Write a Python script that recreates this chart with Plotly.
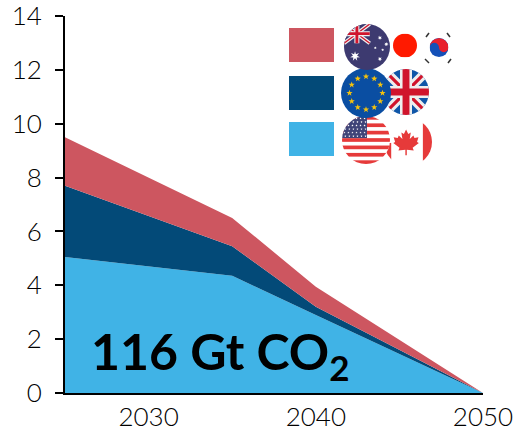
import base64
import math
import plotly.graph_objects as go

years = [2025, 2035, 2040, 2050]
usa_canada = [5.05, 4.35, 2.90, 0.0]
eu_uk = [2.65, 1.10, 0.30, 0.0]
aus_jpn_kor = [1.80, 1.05, 0.75, 0.0]
x_ticks = [2030, 2040, 2050]
y_ticks = [0, 2, 4, 6, 8, 10, 12, 14]
budget_label = "116 Gt CO<sub>2</sub>"

BLUE = "#40B3E6"
NAVY = "#034A78"
RED = "#CD5660"
FONT = "Lato, sans-serif"

WIDTH, HEIGHT = 515, 432
LEFT, RIGHT, TOP, BOTTOM = 65, 32, 16, 39
PLOT_W = WIDTH - LEFT - RIGHT
PLOT_H = HEIGHT - TOP - BOTTOM


def paper_x(px):
    return (px - LEFT) / PLOT_W


def paper_y(py):
    return 1 - (py - TOP) / PLOT_H


def star(cx, cy, r, points=5, fill="#fff", inner=0.42):
    pts = []
    for i in range(points * 2):
        radius = r if i % 2 == 0 else r * inner
        a = -math.pi / 2 + i * math.pi / points
        pts.append(f"{cx + radius * math.cos(a):.2f},{cy + radius * math.sin(a):.2f}")
    return f'<polygon points="{" ".join(pts)}" fill="{fill}"/>'


def union_jack(x, y, w, h, field):
    """Union Jack filling the box (x, y, w, h) on a coloured field."""
    sw = h * 0.2
    thin = h * 0.07
    cw = h * 0.26
    cr = h * 0.15
    mx, my = x + w / 2, y + h / 2
    x2, y2 = x + w, y + h
    return (
        f'<rect x="{x}" y="{y}" width="{w}" height="{h}" fill="{field}"/>'
        f'<path d="M{x} {y}L{x2} {y2}M{x2} {y}L{x} {y2}" stroke="#eee" stroke-width="{sw}"/>'
        f'<path d="M{x} {y}L{x2} {y2}M{x2} {y}L{x} {y2}" stroke="#D0142C" stroke-width="{thin}"/>'
        f'<path d="M{mx} {y}V{y2}M{x} {my}H{x2}" stroke="#eee" stroke-width="{cw}"/>'
        f'<path d="M{mx} {y}V{y2}M{x} {my}H{x2}" stroke="#D0142C" stroke-width="{cr}"/>'
    )


def flag_australia():
    body = '<rect width="100" height="100" fill="#3D3A70"/>'
    body += union_jack(0, 0, 56, 42, "#3D3A70")
    body += star(24, 70, 11, 7)
    for cx, cy, r in [(78, 30, 5), (92, 44, 5), (84, 56, 3.5), (68, 52, 3.5), (78, 76, 5)]:
        body += star(cx, cy, r, 7)
    return body


def flag_japan():
    return '<rect width="100" height="100" fill="#FF1A00"/>'


def flag_korea():
    return (
        '<rect width="100" height="100" fill="#1450B8"/>'
        '<path d="M0 50A50 50 0 0 1 100 50A25 25 0 0 1 50 50A25 25 0 0 0 0 50Z" fill="#E8202E"/>'
    )


def flag_eu():
    body = '<rect width="100" height="100" fill="#0A4EA2"/>'
    for i in range(12):
        a = i * math.pi / 6
        body += star(50 + 33 * math.sin(a), 50 - 33 * math.cos(a), 6.5, 5, "#F4C20D")
    return body


def flag_uk():
    return union_jack(0, 0, 100, 100, "#0F56A8")


def flag_usa():
    body = '<rect width="100" height="100" fill="#fff"/>'
    for i in range(0, 13, 2):
        body += f'<rect y="{i * 100 / 13:.2f}" width="100" height="{100 / 13:.2f}" fill="#E63A3A"/>'
    body += '<rect width="52" height="46" fill="#3F4478"/>'
    for row in range(6):
        for col in range(6):
            body += star(5 + col * 8.4 + (row % 2) * 2, 5 + row * 7.4, 2.4)
    return body


def flag_canada():
    leaf = (
        "M50 18L56 30L63 26L60 44L70 34L73 41L84 39L80 52L85 55L68 68L71 75L52 73"
        "L52 88L48 88L48 73L29 75L32 68L15 55L20 52L16 39L27 41L30 34L40 44L37 26L44 30Z"
    )
    return (
        '<rect width="100" height="100" fill="#fff"/>'
        '<rect y="52" width="15" height="48" fill="#E63A3A"/>'
        '<rect x="81" width="19" height="100" fill="#E63A3A"/>'
        f'<g transform="translate(46 50) scale(0.76) translate(-50 -52)"><path d="{leaf}" fill="#E63A3A"/></g>'
    )


def flag_image(body, cx, cy, r):
    svg = (
        '<svg xmlns="http://www.w3.org/2000/svg" width="200" height="200" viewBox="0 0 100 100">'
        '<defs><clipPath id="c"><circle cx="50" cy="50" r="50"/></clipPath></defs>'
        f'<g clip-path="url(#c)">{body}</g></svg>'
    )
    uri = "data:image/svg+xml;base64," + base64.b64encode(svg.encode()).decode()
    return dict(
        source=uri, xref="paper", yref="paper",
        x=paper_x(cx - r), y=paper_y(cy - r),
        sizex=2 * r / PLOT_W, sizey=2 * r / PLOT_H,
        sizing="stretch", xanchor="left", yanchor="top", layer="above",
    )


fig = go.Figure()
for name, values, colour in [
    ("USA and Canada", usa_canada, BLUE),
    ("EU and UK", eu_uk, NAVY),
    ("Australia, Japan and South Korea", aus_jpn_kor, RED),
]:
    fig.add_trace(go.Scatter(
        x=years, y=values, name=name, mode="lines", stackgroup="emissions",
        line=dict(width=0), fillcolor=colour, hoverinfo="x+y+name",
    ))

# Colour key: one swatch per group of flags
swatches = [(28, 62, RED), (76, 110, NAVY), (122, 156, BLUE)]
shapes = [
    dict(type="rect", xref="paper", yref="paper", layer="above", line_width=0, fillcolor=c,
         x0=paper_x(289), x1=paper_x(334), y0=paper_y(y1), y1=paper_y(y0))
    for y0, y1, c in swatches
]

images = [
    flag_image(flag_canada(), 408, 142, 24),
    flag_image(flag_usa(), 366, 140, 24),
    flag_image(flag_uk(), 406, 92, 23),
    flag_image(flag_eu(), 366, 93, 25),
    flag_image(flag_australia(), 367, 47, 23),
    flag_image(flag_japan(), 405, 45.5, 12),
    flag_image(flag_korea(), 439, 47.5, 9.5),
]

# Trigram marks around the Korean disc
for x0, y0, x1, y1 in [(426, 37, 429, 33), (447, 33, 450, 37), (425, 59, 429, 63), (448, 63, 451, 59)]:
    shapes.append(dict(type="line", xref="paper", yref="paper", layer="above",
                       x0=paper_x(x0), x1=paper_x(x1), y0=paper_y(y0), y1=paper_y(y1),
                       line=dict(color="#333", width=1.5)))

fig.update_layout(
    width=WIDTH, height=HEIGHT,
    margin=dict(l=LEFT, r=RIGHT, t=TOP, b=BOTTOM, pad=0),
    paper_bgcolor="white", plot_bgcolor="white",
    showlegend=False,
    font=dict(family=FONT, color="black", size=26, weight=300),
    shapes=shapes, images=images,
    xaxis=dict(
        range=[2025, 2050], tickmode="array", tickvals=x_ticks, ticks="",
        showgrid=False, zeroline=False, showline=True, linecolor="black", linewidth=2,
        ticklabelstandoff=0, automargin=False, ticklabeloverflow="allow",
    ),
    yaxis=dict(
        range=[0, 14], tickmode="array", tickvals=y_ticks, ticks="outside", ticklen=8,
        tickwidth=2, tickcolor="black",
        showgrid=False, zeroline=False, showline=True, linecolor="black", linewidth=2,
        ticklabelstandoff=8, automargin=False, ticklabeloverflow="allow",
    ),
    annotations=[dict(
        text=budget_label, xref="paper", yref="paper", x=paper_x(89), y=paper_y(390),
        xanchor="left", yanchor="bottom", showarrow=False,
        font=dict(family=FONT, size=50, color="black", weight="bold"),
    )],
)

fig.write_html("out.html")
